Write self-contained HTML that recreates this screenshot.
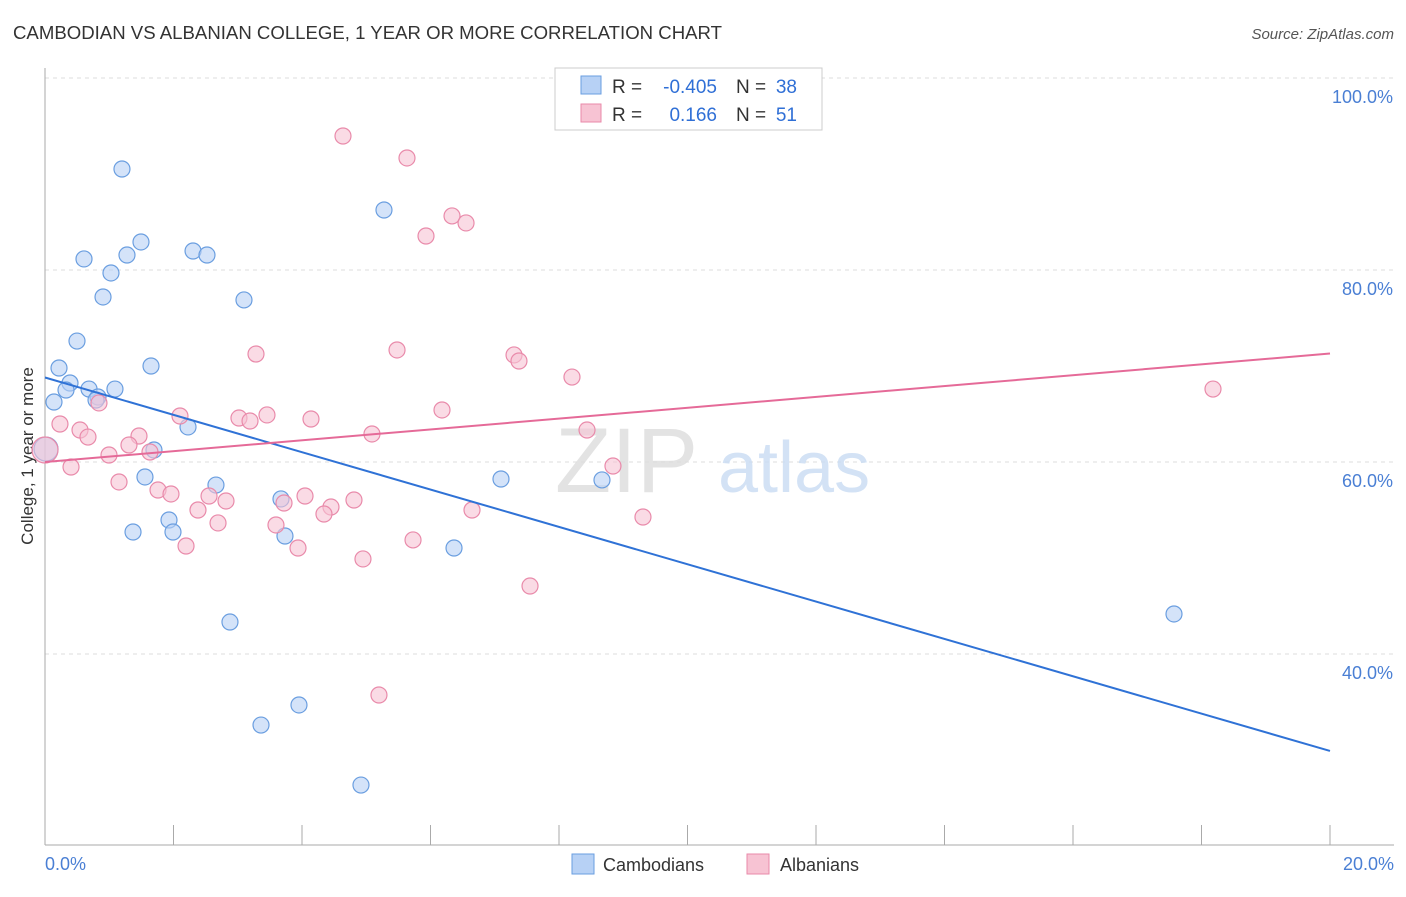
<!DOCTYPE html>
<html><head><meta charset="utf-8">
<style>
body{margin:0;background:#fff;font-family:"Liberation Sans",sans-serif;}
svg text{font-family:"Liberation Sans",sans-serif;}
</style></head>
<body>
<svg id="chart" width="1406" height="892" xmlns="http://www.w3.org/2000/svg">
<text x="13" y="39" font-size="18" fill="#333" textLength="709" lengthAdjust="spacingAndGlyphs">CAMBODIAN VS ALBANIAN COLLEGE, 1 YEAR OR MORE CORRELATION CHART</text>
<text x="1394" y="39" font-size="15" fill="#555" text-anchor="end" font-style="italic">Source: ZipAtlas.com</text>
<g id="grid"></g>
<text x="555" y="492" font-size="92" fill="#ddd" font-family="Liberation Serif" opacity="0.8">ZIP</text>
<text x="718" y="492" font-size="72" fill="#c9dcf3" opacity="0.8">atlas</text>
<line x1="45" y1="68" x2="45" y2="845" stroke="#aaa"/>
<line x1="45" y1="845" x2="1394" y2="845" stroke="#aaa"/>
<g id="ticks"></g>
<g id="ylabels"></g>
<text transform="translate(33,456) rotate(-90)" font-size="17" fill="#333" text-anchor="middle">College, 1 year or more</text>
<text x="45" y="870" font-size="18" fill="#4a7fd4">0.0%</text>
<text x="1394" y="870" font-size="18" fill="#4a7fd4" text-anchor="end">20.0%</text>
<g id="pts"></g>
<g id="lines"></g>
<g>
<rect x="555" y="68" width="267" height="62" fill="#fff" stroke="#ccc"/>
<rect x="581" y="76" width="20" height="18" fill="#b7d1f5" stroke="#6a9ee0"/>
<rect x="581" y="104" width="20" height="18" fill="#f7c3d3" stroke="#e98aaa"/>
<text x="612" y="93" font-size="19" fill="#333">R =</text>
<text x="717" y="93" font-size="19" fill="#2f6fd6" text-anchor="end">-0.405</text>
<text x="736" y="93" font-size="19" fill="#333">N =</text>
<text x="797" y="93" font-size="19" fill="#2f6fd6" text-anchor="end">38</text>
<text x="612" y="121" font-size="19" fill="#333">R =</text>
<text x="717" y="121" font-size="19" fill="#2f6fd6" text-anchor="end">0.166</text>
<text x="736" y="121" font-size="19" fill="#333">N =</text>
<text x="797" y="121" font-size="19" fill="#2f6fd6" text-anchor="end">51</text>
</g>
<g>
<rect x="572" y="854" width="22" height="20" fill="#b7d1f5" stroke="#6a9ee0"/>
<text x="603" y="871" font-size="18" fill="#333">Cambodians</text>
<rect x="747" y="854" width="22" height="20" fill="#f7c3d3" stroke="#e98aaa"/>
<text x="780" y="871" font-size="18" fill="#333">Albanians</text>
</g>
</svg>
<script>
const yTicks=[40,60,80,100];
const blueX=[122,384,141,84,127,193,207,111,103,244,77,151,59,70,66,89,115,98,96,54,188,154,46,145,216,501,602,281,169,133,173,285,454,230,299,261,361,1174];
const blueY=[169,210,242,259,255,251,255,273,297,300,341,366,368,383,390,389,389,397,400,402,427,450,449,477,485,479,480,499,520,532,532,536,548,622,705,725,785,614];
const pinkX=[343,407,452,466,426,256,397,514,519,572,1213,442,99,180,239,267,250,311,60,80,88,372,587,139,129,150,109,45,71,613,119,158,171,209,226,305,354,284,331,324,198,472,218,276,643,186,413,298,363,530,379];
const pinkY=[136,158,216,223,236,354,350,355,361,377,389,410,403,416,418,415,421,419,424,430,437,434,430,436,445,452,455,450,467,466,482,490,494,496,501,496,500,503,507,514,510,510,523,525,517,546,540,548,559,586,695];
const cambX=blueX.map(p=>+((p-45)/1285*20).toFixed(3));
const cambY=blueY.map(p=>+(40+(654-p)/9.6).toFixed(2));
const albX=pinkX.map(p=>+((p-45)/1285*20).toFixed(3));
const albY=pinkY.map(p=>+(40+(654-p)/9.6).toFixed(2));
const trendBlue=[68.8,29.9];
const trendPink=[60.0,71.3];
const sx=v=>45+v/20*1285, sy=v=>654-(v-40)*9.6;
const NS="http://www.w3.org/2000/svg";
function mk(t,a,p){const e=document.createElementNS(NS,t);for(const k in a)e.setAttribute(k,a[k]);p.appendChild(e);return e;}
const grid=document.getElementById('grid'),yl=document.getElementById('ylabels');
yTicks.forEach(v=>{
 const l=mk('line',{x1:45,x2:1394,y1:sy(v),y2:sy(v),stroke:'#ddd','stroke-dasharray':'4,4'},grid);
 
 
 const t=mk('text',{x:1393,y:sy(v)+25,'font-size':18,fill:'#4a7fd4','text-anchor':'end'},yl);
 t.textContent=v.toFixed(1)+'%';
 
 
});
const tk=document.getElementById('ticks');
for(let i=0;i<=10;i++){const l=mk('line',{x1:sx(i*2),x2:sx(i*2),y1:825,y2:845,stroke:'#aaa'},tk);
 
 }
const pts=document.getElementById('pts');
cambX.forEach((x,i)=>{const big=i==22;const c=mk('circle',{cx:sx(x),cy:sy(cambY[i]),r:big?12:8,fill:'#b7d1f5','fill-opacity':0.6,stroke:'#6a9ee0','stroke-width':1.2},pts);
 
 });
albX.forEach((x,i)=>{const big=i==27;const c=mk('circle',{cx:sx(x),cy:sy(albY[i]),r:big?13:8,fill:'#f7c3d3','fill-opacity':0.6,stroke:'#e98aaa','stroke-width':1.2},pts);
 
 });
const ln=document.getElementById('lines');
const b=mk('line',{x1:sx(0),y1:sy(trendBlue[0]),x2:sx(20),y2:sy(trendBlue[1]),stroke:'#2f72d6','stroke-width':2},ln);


const p=mk('line',{x1:sx(0),y1:sy(trendPink[0]),x2:sx(20),y2:sy(trendPink[1]),stroke:'#e56a98','stroke-width':2},ln);


</script>
</body></html>
